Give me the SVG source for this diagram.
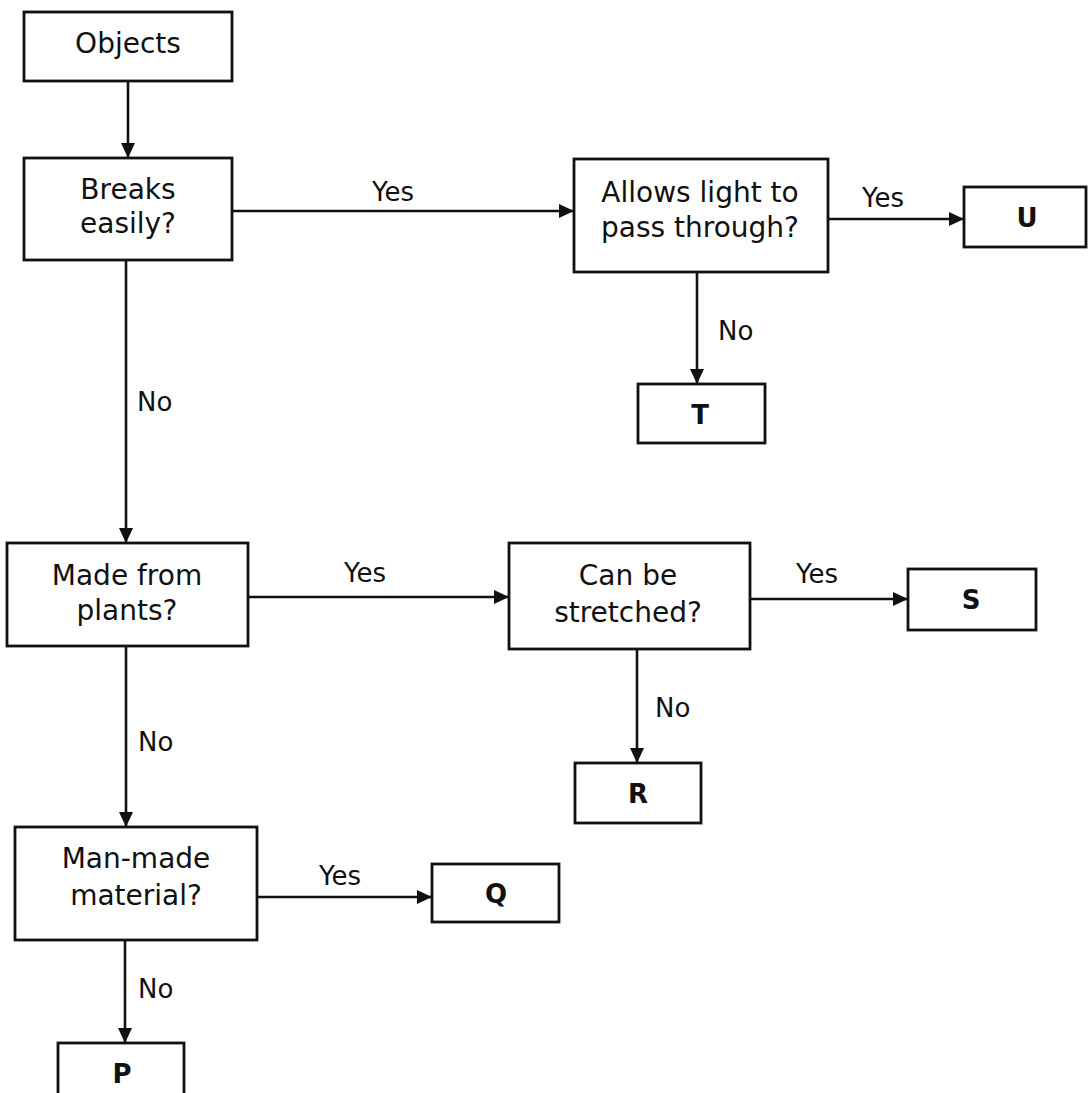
<svg xmlns="http://www.w3.org/2000/svg" width="1089" height="1093" viewBox="0 0 1089 1093">
<style>
.box{fill:#fff;stroke:#111;stroke-width:2.8}
.t{font-family:"DejaVu Sans",sans-serif;font-size:28px;fill:#111;text-anchor:middle}
.l{font-family:"DejaVu Sans",sans-serif;font-size:26px;fill:#111}
.b{font-family:"DejaVu Sans",sans-serif;font-size:26px;font-weight:bold;fill:#111;text-anchor:middle}
.c{stroke:#111;stroke-width:2.6;fill:none;marker-end:url(#ah)}
</style>
<defs>
<marker id="ah" markerUnits="userSpaceOnUse" markerWidth="16" markerHeight="14" refX="15" refY="7" orient="auto">
<path d="M0,0 L15,7 L0,14 Z" fill="#111"/>
</marker>
</defs>
<rect width="1089" height="1093" fill="#fff"/>
<g id="connectors">
<line class="c" x1="128" y1="81" x2="128" y2="158"/>
<line class="c" x1="232" y1="211" x2="574" y2="211"/>
<line class="c" x1="828" y1="219" x2="964" y2="219"/>
<line class="c" x1="697" y1="272" x2="697" y2="384"/>
<line class="c" x1="126" y1="260" x2="126" y2="543"/>
<line class="c" x1="248" y1="597" x2="509" y2="597"/>
<line class="c" x1="750" y1="599" x2="908" y2="599"/>
<line class="c" x1="637" y1="649" x2="637" y2="763"/>
<line class="c" x1="126" y1="646" x2="126" y2="827"/>
<line class="c" x1="257" y1="897" x2="432" y2="897"/>
<line class="c" x1="125" y1="940" x2="125" y2="1043"/>
<text class="l" x="393" y="201" text-anchor="middle">Yes</text>
<text class="l" x="883" y="207" text-anchor="middle">Yes</text>
<text class="l" x="718" y="340">No</text>
<text class="l" x="137" y="411">No</text>
<text class="l" x="365" y="582" text-anchor="middle">Yes</text>
<text class="l" x="817" y="583" text-anchor="middle">Yes</text>
<text class="l" x="655" y="717">No</text>
<text class="l" x="138" y="751">No</text>
<text class="l" x="340" y="885" text-anchor="middle">Yes</text>
<text class="l" x="138" y="998">No</text>
</g>
<g id="objects"><rect class="box" x="24" y="12" width="208" height="69"/><text class="t" x="128" y="53">Objects</text></g>
<g id="breaks"><rect class="box" x="24" y="158" width="208" height="102"/><text class="t" x="128" y="199">Breaks</text><text class="t" x="128" y="233">easily?</text></g>
<g id="allows"><rect class="box" x="574" y="159" width="254" height="113"/><text class="t" x="700" y="202">Allows light to</text><text class="t" x="700" y="237">pass through?</text></g>
<g id="u"><rect class="box" x="964" y="187" width="122" height="60"/><text class="b" x="1027" y="227">U</text></g>
<g id="t"><rect class="box" x="638" y="384" width="127" height="59"/><text class="b" x="700" y="424">T</text></g>
<g id="made"><rect class="box" x="7" y="543" width="241" height="103"/><text class="t" x="127" y="585">Made from</text><text class="t" x="127" y="620">plants?</text></g>
<g id="can"><rect class="box" x="509" y="543" width="241" height="106"/><text class="t" x="628" y="585">Can be</text><text class="t" x="628" y="622">stretched?</text></g>
<g id="s"><rect class="box" x="908" y="569" width="128" height="61"/><text class="b" x="971" y="609">S</text></g>
<g id="r"><rect class="box" x="575" y="763" width="126" height="60"/><text class="b" x="638" y="803">R</text></g>
<g id="manmade"><rect class="box" x="15" y="827" width="242" height="113"/><text class="t" x="136" y="868">Man-made</text><text class="t" x="136" y="905">material?</text></g>
<g id="q"><rect class="box" x="432" y="864" width="127" height="58"/><text class="b" x="496" y="903">Q</text></g>
<g id="p"><rect class="box" x="58" y="1043" width="126" height="60"/><text class="b" x="122" y="1083">P</text></g>
</svg>
